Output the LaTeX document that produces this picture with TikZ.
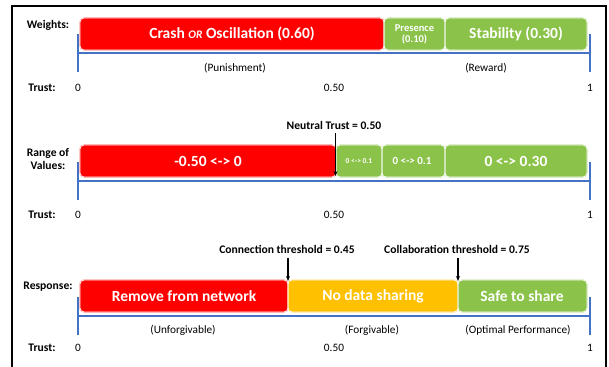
\documentclass[tikz,border=0pt]{standalone}
\usepackage{fontspec}
\setmainfont{Carlito}
\usetikzlibrary{arrows.meta}
\definecolor{bred}{RGB}{255,0,0}
\definecolor{bgreen}{RGB}{139,195,74}
\definecolor{borange}{RGB}{255,192,0}
\definecolor{baxis}{RGB}{68,114,196}
\tikzset{
  seg/.style={draw=white, line width=0.8pt, rounded corners=4pt},
  lbl/.style={font=\fontsize{11.6}{13}\selectfont\bfseries, inner sep=0pt},
  sub/.style={font=\fontsize{11.3}{13}\selectfont, inner sep=0pt},
  bartext/.style={text=white, font=\fontsize{15.5}{17}\selectfont\bfseries, inner sep=0pt, align=center},
  axisline/.style={draw=baxis, line width=2.2pt},
  marker/.style={-{Stealth[length=5pt,width=4pt]}, line width=1.1pt, black}
}
\begin{document}
\begin{tikzpicture}[x=1pt,y=-1pt]
\useasboundingbox (0,0) rectangle (609,366);
\begin{scope}
\clip (0,0) rectangle (609,366);
\draw[line width=1.6pt] (12,6) rectangle (606,372);
\end{scope}

% ---------- Section 1: Weights ----------
\node[lbl] (w) at (48,25) {Weights:};
\fill[seg, bred] (80,18) rectangle (384,50);
\fill[seg, bgreen] (384,18) rectangle (445,50);
\fill[seg, bgreen] (445,18) rectangle (587,50);
\draw[seg] (80,18) rectangle (384,50);
\draw[seg] (384,18) rectangle (445,50);
\draw[seg] (445,18) rectangle (587,50);
\node[bartext] (crash) at (232,34) {Crash {\itshape\fontsize{11.5}{13}\selectfont OR} Oscillation (0.60)};
\node[bartext, font=\fontsize{10.5}{11}\selectfont\bfseries] (pres) at (414.5,34) {Presence\\(0.10)};
\node[bartext] (stab) at (516,34) {Stability (0.30)};
\coordinate (a1l) at (78,53);
\coordinate (a1r) at (590,53);
\draw[axisline] (a1l) -- (a1r);
\draw[axisline] (78,34) -- (78,72);
\draw[axisline] (590,34) -- (590,72);
\node[sub] (pun) at (235,68) {(Punishment)};
\node[sub] (rew) at (486,68) {(Reward)};
\node[lbl] (t1) at (42,88) {Trust:};
\node[sub] (z1) at (78,88) {0};
\node[sub] (h1) at (334,88) {0.50};
\node[sub] (o1) at (590,88) {1};

% ---------- Section 2: Range of values ----------
\node[lbl, align=center] (rv) at (48,159) {Range of\\Values:};
\node[lbl] (nt) at (334,125) {Neutral Trust = 0.50};
\fill[seg, bred] (80,145) rectangle (336,177);
\fill[seg, bgreen] (336,145) rectangle (382,177);
\fill[seg, bgreen] (382,145) rectangle (445,177);
\fill[seg, bgreen] (445,145) rectangle (587,177);
\draw[seg] (80,145) rectangle (336,177);
\draw[seg] (336,145) rectangle (382,177);
\draw[seg] (382,145) rectangle (445,177);
\draw[seg] (445,145) rectangle (587,177);
\node[bartext] (r1) at (208,161) {-0.50 <-> 0};
\node[bartext, font=\fontsize{7.5}{9}\selectfont\bfseries] (r2) at (359,161) {0 <-> 0.1};
\node[bartext, font=\fontsize{11}{12}\selectfont\bfseries] (r3) at (412,161) {0 <-> 0.1};
\node[bartext] (r4) at (516,161) {0 <-> 0.30};
\coordinate (ntarrow) at (335.5,176);
\draw[marker] (nt.south -| ntarrow) ++(0,4) -- (ntarrow);
\draw[axisline] (78,181) -- (590,181);
\draw[axisline] (78,162) -- (78,200);
\draw[axisline] (590,162) -- (590,200);
\node[lbl] (t2) at (42,215) {Trust:};
\node[sub] (z2) at (78,215) {0};
\node[sub] (h2) at (334,215) {0.50};
\node[sub] (o2) at (590,215) {1};

% ---------- Section 3: Response ----------
\node[lbl] (resp) at (48,287) {Response:};
\node[lbl] (ct) at (287,249) {Connection threshold = 0.45};
\node[lbl] (cbt) at (457,249) {Collaboration threshold = 0.75};
\fill[seg, bred] (80,280) rectangle (288,312);
\fill[seg, borange] (288,280) rectangle (458,312);
\fill[seg, bgreen] (458,280) rectangle (587,312);
\draw[seg] (80,280) rectangle (288,312);
\draw[seg] (288,280) rectangle (458,312);
\draw[seg] (458,280) rectangle (587,312);
\node[bartext] (rm) at (184,296) {Remove from network};
\node[bartext] (nd) at (373,296) {No data sharing};
\node[bartext] (ss) at (522,296) {Safe to share};
\coordinate (ca) at (288,281);
\coordinate (cba) at (458,281);
\draw[marker] (ca |- ct.south) ++(0,5) -- (ca);
\draw[marker] (cba |- cbt.south) ++(0,5) -- (cba);
\draw[axisline] (78,316) -- (590,316);
\draw[axisline] (78,297) -- (78,335);
\draw[axisline] (590,297) -- (590,335);
\node[sub] (unf) at (183,330) {(Unforgivable)};
\node[sub] (forg) at (372,330) {(Forgivable)};
\node[sub] (opt) at (518,330) {(Optimal Performance)};
\node[lbl] (t3) at (42,348) {Trust:};
\node[sub] (z3) at (78,348) {0};
\node[sub] (h3) at (334,348) {0.50};
\node[sub] (o3) at (590,348) {1};
\end{tikzpicture}
\end{document}
